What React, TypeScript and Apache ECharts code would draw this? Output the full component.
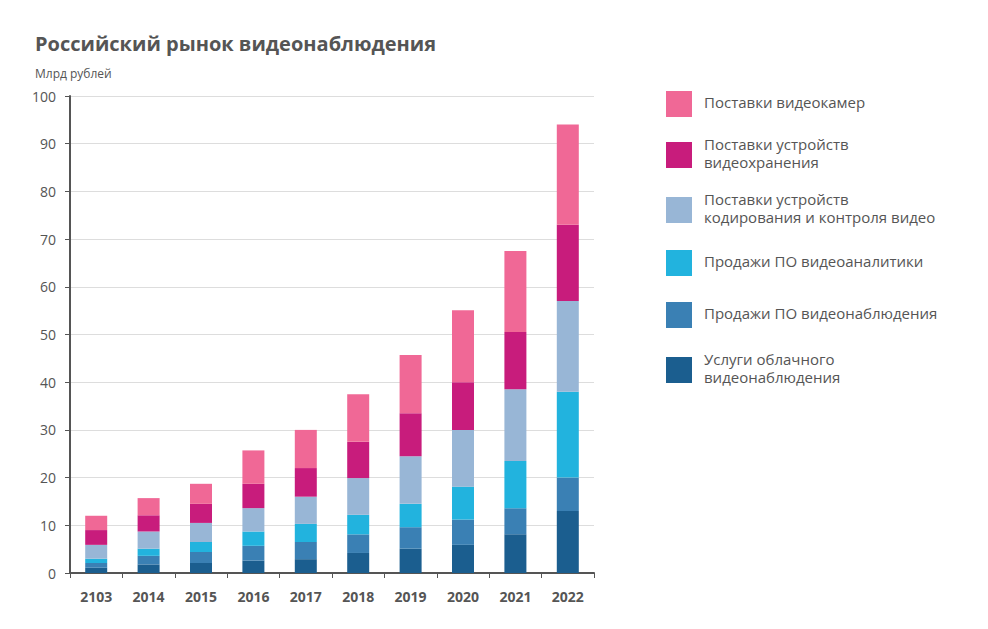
import React, { useEffect, useRef } from 'react';
import * as echarts from 'echarts';

const years = ['2103', '2014', '2015', '2016', '2017', '2018', '2019', '2020', '2021', '2022'];

const seriesNames = [
  'Услуги облачного\nвидеонаблюдения',
  'Продажи ПО видеонаблюдения',
  'Продажи ПО видеоаналитики',
  'Поставки устройств\nкодирования и контроля видео',
  'Поставки устройств\nвидеохранения',
  'Поставки видеокамер',
];
const colors = ['#1b5e8f', '#3a80b4', '#22b3de', '#98b6d6', '#c81c7c', '#f06896'];

const cloud = [1.1, 1.8, 2.1, 2.6, 2.9, 4.2, 5.1, 5.9, 8.1, 13];
const vmsSoft = [1.0, 1.8, 2.3, 3.1, 3.6, 3.9, 4.5, 5.3, 5.5, 7];
const analytics = [0.9, 1.5, 2.1, 3.0, 3.8, 4.1, 4.9, 6.9, 9.9, 18];
const encoding = [2.9, 3.6, 4.0, 4.9, 5.7, 7.7, 10, 11.9, 15, 19];
const storage = [3.1, 3.4, 4.0, 5.1, 6, 7.6, 9, 10, 12, 16];
const cameras = [3.0, 3.6, 4.2, 7.0, 8, 10, 12.2, 15.1, 17, 21];
const seriesData = [cloud, vmsSoft, analytics, encoding, storage, cameras];

const yTicks = [0, 10, 20, 30, 40, 50, 60, 70, 80, 90, 100];

export default function App() {
  const ref = useRef<HTMLDivElement>(null);

  useEffect(() => {
    if (!ref.current) return;
    const chart = echarts.init(ref.current, undefined, { renderer: 'svg' });
    const font = '"Open Sans", "Noto Sans", sans-serif';
    const legendY = [104, 155, 210, 263, 315, 370];
    const legend: any[] = [];
    for (let i = 0; i < 6; i++) {
      const idx = 5 - i;
      legend.push({
        type: 'rect',
        left: 666,
        top: legendY[i] - 13,
        shape: { width: 26, height: 26 },
        style: { fill: colors[idx] },
      });
      const lines = seriesNames[idx].split('\n');
      lines.forEach((ln, k) => {
        legend.push({
          type: 'text',
          left: 704,
          top: legendY[i] - 10 - (lines.length - 1) * 9 + k * 18,
          style: { text: ln, fill: '#555', font: `15px ${font}` },
        });
      });
    }
    chart.setOption({
      animation: false,
      textStyle: { fontFamily: font },
      grid: { left: 70, right: 394, top: 96, bottom: 56 },
      title: [
        {
          text: 'Российский рынок видеонаблюдения',
          left: 30,
          top: 28,
          textStyle: { fontSize: 20, fontWeight: 'bold', color: '#555', fontFamily: font },
        },
        {
          text: 'Млрд рублей',
          left: 30,
          top: 62,
          textStyle: { fontSize: 12, fontWeight: 'normal', color: '#555', fontFamily: font },
        },
      ],
      graphic: legend,
      xAxis: {
        type: 'category',
        data: years,
        axisLine: { lineStyle: { color: '#555', width: 2 } },
        axisTick: { show: true, alignWithLabel: false, length: 5, lineStyle: { color: '#555' } },
        axisLabel: { color: '#555', fontWeight: 'bold', fontSize: 14, margin: 16 },
      },
      yAxis: {
        type: 'value',
        min: yTicks[0],
        max: yTicks[yTicks.length - 1],
        interval: 10,
        axisLine: { show: true, lineStyle: { color: '#555', width: 2 } },
        axisTick: { show: true, length: 5, lineStyle: { color: '#555' } },
        axisLabel: { color: '#555', fontSize: 14, margin: 14 },
        splitLine: { lineStyle: { color: '#ddd' } },
      },
      series: seriesData.map((d, i) => ({
        name: seriesNames[i],
        type: 'bar',
        stack: 'total',
        data: d,
        barWidth: 22,
        itemStyle: { color: colors[i] },
      })),
    });
    return () => chart.dispose();
  }, []);

  return <div ref={ref} style={{ position: 'absolute', left: 0, top: 0, width: 988, height: 629 }} />;
}
